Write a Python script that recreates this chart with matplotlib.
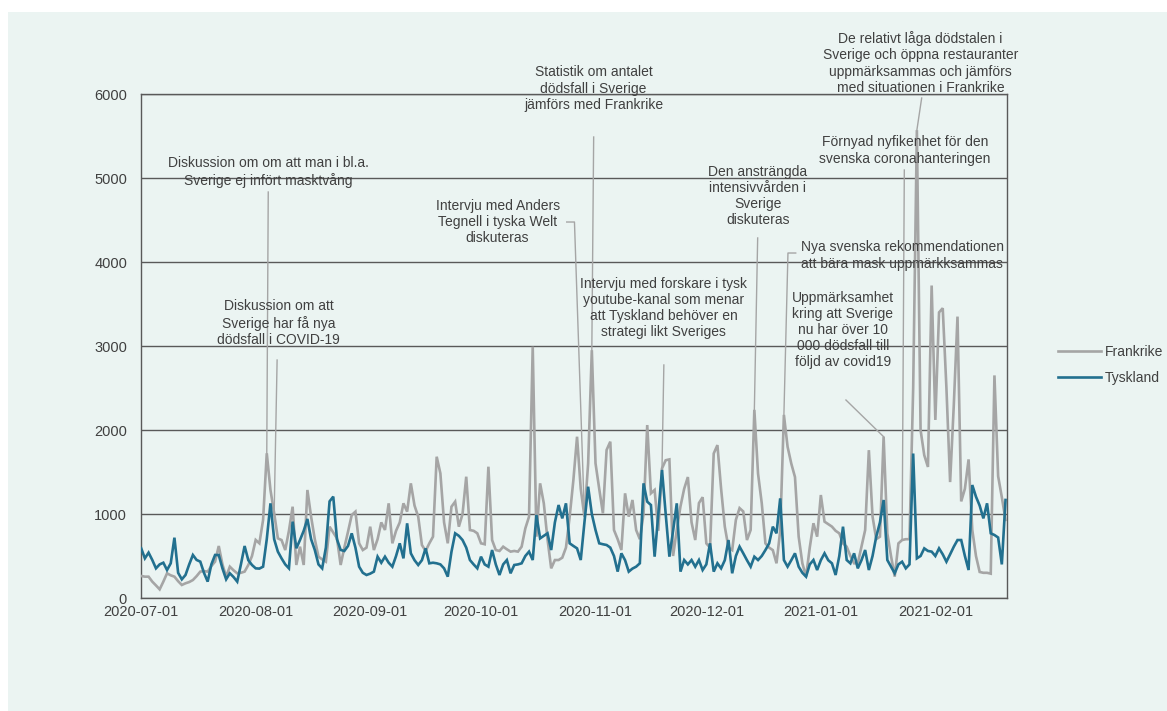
import numpy as np
import matplotlib
matplotlib.use('Agg')
import matplotlib.pyplot as plt
import matplotlib.dates as mdates
from matplotlib.patches import Rectangle

plt.rcParams['font.family'] = ['Liberation Sans', 'DejaVu Sans']

# ---------------- data ----------------
dates = np.arange('2020-07-01', '2021-02-21', dtype='datetime64[D]')

frankrike = [
    262, 254, 254, 195, 150, 103, 195, 294, 270, 254,
    200, 155, 175, 190, 214, 260, 314, 320, 314, 380,
    433, 619, 400, 254, 373, 330, 294, 300, 314, 393,
    500, 691, 651, 929, 1723, 1286, 1010, 710, 690, 571,
    800, 1087, 393, 611, 393, 1286, 968, 700, 492, 460,
    433, 849, 780, 710, 393, 600, 790, 988, 1028, 651,
    571, 600, 849, 571, 700, 900, 810, 1127, 651, 800,
    900, 1127, 1028, 1365, 1100, 968, 631, 560, 650, 730,
    1682, 1484, 900, 651, 1087, 1147, 849, 1000, 1444, 809,
    800, 770, 651, 640, 1563, 690, 571, 560, 611, 580,
    552, 560, 552, 611, 829, 968, 2992, 730, 1365, 1127,
    700, 353, 452, 452, 480, 600, 968, 1400, 1920, 1300,
    968, 1600, 2950, 1603, 1300, 1008, 1762, 1861, 809, 700,
    571, 1246, 968, 1167, 809, 700, 1000, 2059, 1246, 1286,
    800, 1543, 1640, 1650, 500, 810, 1090, 1300, 1440, 900,
    690, 1130, 1200, 650, 600, 1720, 1820, 1300, 850, 600,
    570, 930, 1070, 1030, 690, 810, 2240, 1480, 1130, 650,
    600, 570, 413, 800, 2180, 1800, 1600, 1440, 730, 413,
    254, 600, 890, 730, 1226, 909, 880, 850, 800, 770,
    650, 611, 500, 413, 413, 611, 809, 1760, 970, 700,
    730, 1920, 770, 500, 254, 650, 690, 700, 700, 2500,
    5570, 2000, 1700, 1560, 3720, 2120, 3400, 3450, 2500, 1380,
    2300, 3350, 1150, 1300, 1650, 810, 500, 310, 300, 300,
    290, 2650, 1450, 1200, 930,
]

tyskland = [
    592, 472, 540, 453, 353, 400, 420, 333, 413, 718,
    300, 222, 274, 400, 512, 453, 433, 300, 195, 400,
    512, 512, 353, 222, 294, 250, 195, 400, 619, 450,
    393, 353, 350, 373, 700, 1127, 700, 552, 472, 400,
    353, 909, 592, 691, 800, 941, 700, 572, 400, 353,
    600, 1150, 1207, 700, 572, 560, 620, 770, 600, 373,
    300, 274, 290, 314, 492, 420, 492, 420, 373, 500,
    651, 472, 889, 532, 450, 393, 450, 591, 413, 420,
    413, 400, 353, 254, 550, 770, 740, 690, 600, 452,
    400, 353, 492, 400, 373, 571, 400, 274, 400, 452,
    294, 393, 400, 413, 500, 552, 452, 988, 710, 740,
    770, 571, 900, 1107, 948, 1127, 651, 620, 591, 452,
    900, 1325, 1000, 809, 651, 640, 631, 600, 500, 314,
    532, 450, 314, 350, 373, 413, 1365, 1147, 1107, 492,
    1000, 1524, 1000, 492, 800, 1127, 314, 452, 400, 452,
    373, 452, 333, 400, 651, 314, 413, 353, 450, 690,
    294, 500, 611, 532, 450, 373, 492, 452, 500, 571,
    650, 849, 770, 1186, 452, 373, 450, 532, 373, 300,
    254, 400, 452, 333, 450, 532, 450, 413, 274, 500,
    849, 452, 413, 532, 353, 450, 571, 333, 500, 730,
    900, 1167, 452, 373, 294, 400, 432, 353, 400, 1720,
    472, 500, 591, 560, 552, 500, 591, 520, 432, 520,
    611, 690, 690, 500, 333, 1345, 1206, 1100, 948, 1127,
    770, 750, 720, 400, 1167,
]

series_names = ['Frankrike', 'Tyskland']
tick_dates = ['2020-07-01', '2020-08-01', '2020-09-01', '2020-10-01',
              '2020-11-01', '2020-12-01', '2021-01-01', '2021-02-01']
y_ticks = [0, 1000, 2000, 3000, 4000, 5000, 6000]

ann_texts = [
    "Diskussion om om att man i bl.a.\nSverige ej infört masktvång",
    "Diskussion om att\nSverige har få nya\ndödsfall i COVID-19",
    "Intervju med Anders\nTegnell i tyska Welt\ndiskuteras",
    "Statistik om antalet\ndödsfall i Sverige\njämförs med Frankrike",
    "Intervju med forskare i tysk\nyoutube-kanal som menar\natt Tyskland behöver en\nstrategi likt Sveriges",
    "Den ansträngda\nintensivvården i\nSverige\ndiskuteras",
    "Nya svenska rekommendationen\natt bära mask uppmärkksammas",
    "Uppmärksamhet\nkring att Sverige\nnu har över 10\n000 dödsfall till\nföljd av covid19",
    "Förnyad nyfikenhet för den\nsvenska coronahanteringen",
    "De relativt låga dödstalen i\nSverige och öppna restauranter\nuppmärksammas och jämförs\nmed situationen i Frankrike",
]
# index of the Frankrike point each label refers to
ann_target = [34, 36, 120, 122, 141, 166, 174, 201, 206, 210]

# ---------------- layout of labels (day offset, value, ha) ----------------
ann_pos = [(34.4, 5071, 'center'), (37.2, 3274, 'center'), (113.3, 4476, 'right'),
           (122.5, 6065, 'center'), (141.5, 3452, 'center'), (166.9, 4786, 'center'),
           (178.6, 4077, 'left'), (190.0, 3190, 'center'), (206.8, 5327, 'center'),
           (211.0, 6369, 'center')]
ann_leader = [[(34.4, 4833)], [(36.8, 2833)], [(115.2, 4476), (117.3, 4476)],
              [(122.5, 5488)], [(141.5, 2774)], [(166.9, 4286)],
              [(177.2, 4107), (175.1, 4107)], [(190.8, 2357)], [(206.6, 5095)],
              [(211.3, 5952)]]

# ---------------- drawing ----------------
W, H = 1167, 711
fig = plt.figure(figsize=(W / 100, H / 100), dpi=100, facecolor='white')
fig.patches.append(Rectangle((8 / W, 0), 1, 1 - 12 / H, transform=fig.transFigure,
                             facecolor='#ebf4f2', edgecolor='none', zorder=-10))
ax = fig.add_axes([141 / W, 1 - 598 / H, (1007 - 141) / W, (598 - 94) / H])
ax.set_facecolor('none')

x = mdates.date2num(dates)
base = x[0]
c_fr = '#a5a5a5'
c_de = '#22708f'
text_c = '#404040'
grid_c = '#595959'

ax.plot(x, frankrike, color=c_fr, lw=1.9, label=series_names[0], zorder=3,
        solid_joinstyle='miter')
ax.plot(x, tyskland, color=c_de, lw=1.9, label=series_names[1], zorder=4,
        solid_joinstyle='miter')

for txt, tgt, pos, lead in zip(ann_texts, ann_target, ann_pos, ann_leader):
    px, py, ha = pos
    ax.text(base + px, py, txt, ha=ha, va='center', multialignment='center',
            fontsize=10, color=text_c, linespacing=1.2, zorder=6, clip_on=False)
    pts = [(base + a, b) for a, b in lead] + [(x[tgt], frankrike[tgt])]
    ax.plot([p[0] for p in pts], [p[1] for p in pts], color=c_fr, lw=1.0,
            zorder=2, clip_on=False)

ax.set_ylim(0, 6000)
ax.set_xlim(base - 0.05, base + 234.4)
ax.set_yticks(y_ticks)
ax.set_yticklabels([str(v) for v in y_ticks])
tk = mdates.date2num(np.array(tick_dates, dtype='datetime64[D]'))
ax.set_xticks(tk)
ax.set_xticklabels(tick_dates)
ax.yaxis.grid(True, color=grid_c, lw=1.0)
ax.set_axisbelow(True)
for s in ax.spines.values():
    s.set_color(grid_c)
    s.set_linewidth(1.0)
ax.tick_params(axis='both', length=0, labelsize=10.5, labelcolor=text_c)
ax.tick_params(axis='y', pad=10)
ax.tick_params(axis='x', pad=5)

leg = fig.legend(loc='center left', bbox_to_anchor=(1045 / W, 1 - 365 / H),
                 frameon=False, fontsize=10, handlelength=3.1, handletextpad=0.3,
                 labelspacing=0.9, labelcolor=text_c)

fig.savefig('out.png', dpi=100, facecolor='white')
